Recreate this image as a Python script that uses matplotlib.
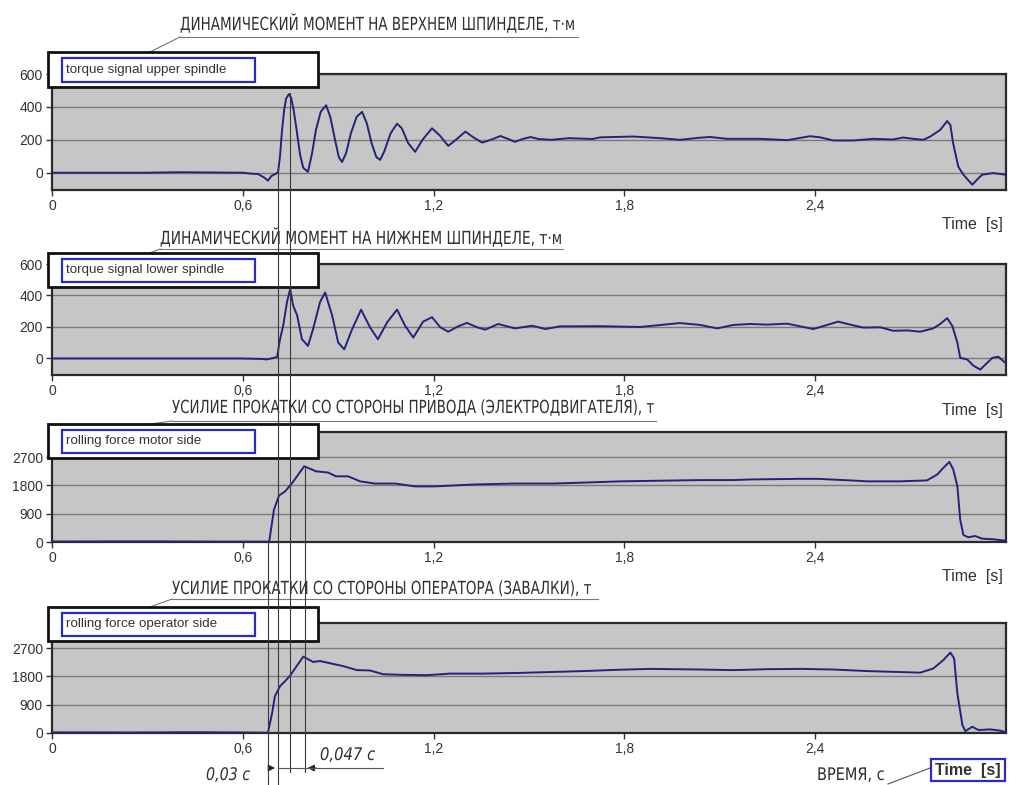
import matplotlib
matplotlib.use("Agg")
import matplotlib.pyplot as plt
import matplotlib.transforms as mtransforms
from matplotlib.patches import Rectangle
from matplotlib.lines import Line2D
from matplotlib.text import Text
from matplotlib.patheffects import AbstractPathEffect

# ---- measured signals -------------------------------------------------------
t_upper = [0.0, 0.30, 0.40, 0.60, 0.623, 0.648, 0.668, 0.679, 0.690, 0.705, 0.711, 0.717, 0.723,
           0.730, 0.736, 0.745, 0.752, 0.760, 0.770, 0.780, 0.790, 0.805, 0.818, 0.830, 0.845,
           0.862, 0.875, 0.890, 0.902, 0.912, 0.925, 0.940, 0.958, 0.975, 0.990, 1.005, 1.020,
           1.032, 1.045, 1.065, 1.085, 1.100, 1.120, 1.142, 1.165, 1.195, 1.220, 1.246, 1.270,
           1.300, 1.325, 1.353, 1.380, 1.410, 1.435, 1.456, 1.480, 1.505, 1.530, 1.570, 1.626,
           1.700, 1.724, 1.828, 1.913, 1.975, 2.038, 2.070, 2.123, 2.227, 2.312, 2.384, 2.416,
           2.457, 2.520, 2.583, 2.645, 2.677, 2.708, 2.740, 2.762, 2.793, 2.815, 2.825, 2.834,
           2.850, 2.866, 2.894, 2.910, 2.925, 2.960, 2.998]
torque_upper = [0, 0, 3, 0, -5, -8, -30, -48, -20, -5, 5, 100, 250,
                380, 450, 478, 455, 380, 250, 110, 30, 5, 120, 260, 370,
                410, 340, 200, 95, 65, 120, 240, 340, 370, 300, 180, 95,
                78, 130, 240, 298, 270, 180, 127, 200, 270, 225, 163, 200,
                250, 215, 183, 200, 223, 205, 188, 205, 217, 205, 200, 210,
                205, 215, 220, 210, 200, 213, 217, 206, 206, 198, 222, 215,
                196, 196, 206, 202, 214, 206, 200, 220, 260, 314, 290, 177,
                37, -12, -73, -40, -12, -2, -12]

t_lower = [0.0, 0.591, 0.660, 0.676, 0.700, 0.708, 0.717, 0.727, 0.739, 0.749, 0.758, 0.771,
           0.786, 0.805, 0.821, 0.843, 0.859, 0.881, 0.900, 0.919, 0.944, 0.972, 1.000, 1.025,
           1.054, 1.085, 1.110, 1.136, 1.167, 1.195, 1.221, 1.246, 1.277, 1.305, 1.337, 1.362,
           1.403, 1.456, 1.510, 1.551, 1.598, 1.724, 1.850, 1.975, 2.038, 2.092, 2.142, 2.196,
           2.249, 2.312, 2.353, 2.394, 2.438, 2.472, 2.510, 2.551, 2.605, 2.645, 2.690, 2.730,
           2.771, 2.793, 2.815, 2.831, 2.847, 2.856, 2.878, 2.897, 2.919, 2.935, 2.957, 2.976,
           2.998]
torque_lower = [0, 0, -3, -6, 5, 10, 122, 208, 359, 440, 338, 273,
                122, 80, 187, 359, 419, 273, 101, 58, 187, 310, 198, 122,
                230, 310, 209, 133, 234, 262, 198, 170, 204, 226, 198, 183,
                219, 191, 208, 187, 204, 205, 200, 225, 213, 191, 213, 219,
                215, 221, 204, 187, 213, 234, 215, 196, 198, 176, 178, 170,
                191, 219, 256, 208, 101, 4, -6, -45, -71, -39, 4, 11,
                -28]

t_motor = [0.0, 0.30, 0.50, 0.683, 0.698, 0.714, 0.733, 0.757, 0.793, 0.830, 0.868, 0.893,
           0.931, 0.969, 1.016, 1.079, 1.142, 1.205, 1.327, 1.453, 1.576, 1.702, 1.787, 2.038,
           2.142, 2.196, 2.353, 2.406, 2.510, 2.564, 2.667, 2.752, 2.784, 2.803, 2.822, 2.834,
           2.847, 2.856, 2.866, 2.881, 2.903, 2.925, 2.960, 2.998]
force_motor = [15, 20, 12, 10, 1030, 1480, 1610, 1900, 2410, 2250, 2210, 2090,
               2090, 1930, 1860, 1860, 1770, 1770, 1830, 1860, 1860, 1900, 1930, 1970,
               1970, 1990, 2010, 2010, 1960, 1930, 1930, 1960, 2150, 2360, 2550, 2310,
               1780, 710, 225, 150, 190, 107, 86, 43]

t_operator = [0.0, 0.25, 0.45, 0.679, 0.692, 0.701, 0.717, 0.733, 0.749, 0.771, 0.790, 0.805,
              0.821, 0.843, 0.874, 0.915, 0.959, 1.000, 1.041, 1.104, 1.180, 1.252, 1.356,
              1.463, 1.567, 1.670, 1.777, 1.881, 2.038, 2.142, 2.249, 2.353, 2.457, 2.564,
              2.667, 2.730, 2.771, 2.803, 2.825, 2.837, 2.847, 2.863, 2.872, 2.894, 2.913,
              2.951, 2.982, 2.998]
force_operator = [20, 15, 25, 10, 630, 1170, 1490, 1650, 1830, 2150, 2430, 2350,
                  2260, 2290, 2220, 2130, 2000, 1990, 1870, 1850, 1840, 1890, 1890,
                  1910, 1940, 1970, 2010, 2040, 2020, 2000, 2030, 2040, 2020, 1970,
                  1940, 1920, 2050, 2320, 2560, 2370, 1260, 250, 60, 200, 95,
                  115, 75, 30]

x_ticks = [0, 0.6, 1.2, 1.8, 2.4]
x_tick_labels = ["0", "0,6", "1,2", "1,8", "2,4"]
torque_ticks = [0, 200, 400, 600]
force_ticks = [0, 900, 1800, 2700]

titles = ["ДИНАМИЧЕСКИЙ МОМЕНТ НА ВЕРХНЕМ ШПИНДЕЛЕ, т·м",
          "ДИНАМИЧЕСКИЙ МОМЕНТ НА НИЖНЕМ ШПИНДЕЛЕ, т·м",
          "УСИЛИЕ ПРОКАТКИ СО СТОРОНЫ ПРИВОДА (ЭЛЕКТРОДВИГАТЕЛЯ), т",
          "УСИЛИЕ ПРОКАТКИ СО СТОРОНЫ ОПЕРАТОРА (ЗАВАЛКИ), т"]
signal_names = ["torque signal upper spindle", "torque signal lower spindle",
                "rolling force motor side", "rolling force operator side"]

# marker lines (s) and the two time intervals between them
t_start = 0.68
t_contact = t_start + 0.03
t_peak = 0.748
t_force_peak = t_peak + 0.047

# ---- layout helpers (pixel coordinates of a 1011x785 canvas) ----------------
W, H = 1011, 785


def fx(x):
    return x / W


def fy(y):
    return 1 - y / H


class Squeeze(AbstractPathEffect):
    """Narrow the glyphs horizontally around a fixed x (drawing-font look)."""

    def __init__(self, sx, x0):
        super().__init__()
        self.sx = sx
        self.x0 = x0

    def draw_path(self, renderer, gc, tpath, affine, rgbFace=None):
        squeeze = mtransforms.Affine2D().translate(-self.x0, 0).scale(self.sx, 1).translate(self.x0, 0)
        renderer.draw_path(gc, tpath, affine + squeeze, rgbFace)


class NarrowText(Text):
    """Left-aligned text drawn narrowed to a given pixel span."""

    def __init__(self, x0, x1, *args, **kwargs):
        super().__init__(*args, **kwargs)
        self.span = (x0, x1)
        self.sx = 1.0

    def fit(self, renderer):
        width = super().get_window_extent(renderer).width
        self.sx = (self.span[1] - self.span[0]) / width
        self.set_path_effects([Squeeze(self.sx, self.span[0])])

    def get_window_extent(self, renderer=None, dpi=None):
        bb = super().get_window_extent(renderer, dpi)
        return mtransforms.Bbox([[bb.x0, bb.y0], [bb.x0 + bb.width * self.sx, bb.y1]])


LINE = "#23237a"
GRAY = "#c6c6c6"
DARK = "#333333"
ARIAL = ["Liberation Sans", "DejaVu Sans"]

fig = plt.figure(figsize=(W / 100, H / 100), dpi=100)

# top, bottom of each plot area in pixels
boxes = [(74, 190), (264, 375), (432, 542), (623, 733)]
series = [(t_upper, torque_upper, torque_ticks, (-105, 600)),
          (t_lower, torque_lower, torque_ticks, (-105, 600)),
          (t_motor, force_motor, force_ticks, (0, 3500)),
          (t_operator, force_operator, force_ticks, (0, 3500))]

axes = []
for (top, bottom), (t, v, yt, ylim) in zip(boxes, series):
    ax = fig.add_axes([fx(52), fy(bottom), fx(1006) - fx(52), (bottom - top) / H])
    ax.set_facecolor(GRAY)
    ax.plot(t, v, color=LINE, lw=1.4, zorder=3)
    ax.set_xlim(0, 3.0)
    ax.set_ylim(*ylim)
    ax.set_yticks(yt)
    ax.set_yticklabels([str(y) for y in yt], fontsize=10, color=DARK, family=ARIAL)
    ax.set_xticks(x_ticks)
    ax.set_xticklabels(x_tick_labels, fontsize=10, color=DARK, family=ARIAL)
    ax.grid(axis="y", color="#7a7a7a", lw=1.0)
    ax.set_axisbelow(True)
    ax.tick_params(direction="out", length=4, width=1, color=DARK, pad=2.5)
    for side in ["top", "right", "left", "bottom"]:
        ax.spines[side].set_color("#2a2a2a")
        ax.spines[side].set_linewidth(1.6)
    axes.append(ax)

# "Time [s]" under the first three plots
for y in [225, 410, 576]:
    fig.text(fx(1003), fy(y), "Time  [s]", ha="right", va="center",
             fontsize=11.5, color=DARK, family=ARIAL)

narrow = []


def draft_text(s, x0, x1, baseline, size, italic=False):
    txt = NarrowText(x0, x1, fx(x0), fy(baseline), s, ha="left", va="baseline",
                     fontsize=size, color="#303030", family="DejaVu Sans",
                     style="italic" if italic else "normal", transform=fig.transFigure)
    fig.add_artist(txt)
    narrow.append(txt)


# framed "Time [s]" with its Russian caption on the last plot
fig.text(fx(968), fy(770), "Time  [s]", ha="center", va="center", fontsize=11.5,
         color=DARK, family=ARIAL, fontweight="bold",
         bbox=dict(boxstyle="square,pad=0.25", fc="white", ec="#2a2ac8", lw=1.6))
draft_text("ВРЕМЯ, с", 817, 885, 780, 12.5)
fig.add_artist(Line2D([fx(888), fx(930)], [fy(784), fy(768)], color="#555555", lw=0.8))

# signal name boxes with the titles and their leader lines
legend_boxes = [(52, 87), (253, 287), (424, 458), (607, 641)]
# (baseline, underline y, text left, text right, underline right)
title_rows = [(30, 37, 180, 573, 578), (244, 249, 160, 560, 563),
              (413, 421, 172, 652, 656), (594, 599, 172, 590, 598)]
for (btop, bbot), name, title, (ty, uy, tx0, tx1, ux1) in zip(legend_boxes, signal_names,
                                                             titles, title_rows):
    fig.add_artist(Rectangle((fx(48), fy(bbot)), fx(318) - fx(48), (bbot - btop) / H,
                             transform=fig.transFigure, fc="white", ec="#111111", lw=2.0, zorder=5))
    fig.add_artist(Rectangle((fx(62), fy(bbot - 5)), fx(255) - fx(62), (bbot - btop - 11) / H,
                             transform=fig.transFigure, fc="white", ec="#2a2ac8", lw=1.6, zorder=6))
    fig.text(fx(66), fy((btop + bbot) / 2), name, ha="left", va="center", fontsize=9.6,
             color=DARK, family=ARIAL, zorder=7)
    draft_text(title, tx0, tx1, ty, 13)
    fig.add_artist(Line2D([fx(tx0), fx(ux1)], [fy(uy), fy(uy)], color="#777777", lw=0.8))
    fig.add_artist(Line2D([fx(tx0), fx(150)], [fy(uy), fy(btop)], color="#777777", lw=0.8))

# vertical marker lines running through all plots
trans = mtransforms.blended_transform_factory(axes[0].transData, fig.transFigure)
markers = [(t_start, 542, 785), (t_contact, 168, 785), (t_peak, 93, 772), (t_force_peak, 468, 772)]
for t, y0, y1 in markers:
    fig.add_artist(Line2D([t, t], [fy(y0), fy(y1)], transform=trans, color="#3a3a3a",
                          lw=0.8, zorder=8))

# interval dimensions
dim_end = (383 - 52) / 317.9
fig.add_artist(Line2D([t_contact, dim_end], [fy(768), fy(768)], transform=trans,
                      color="#555555", lw=0.8, zorder=8))
axes[3].annotate("", xy=(t_contact, fy(768)), xytext=(t_contact - 0.03, fy(768)),
                 xycoords=trans, textcoords=trans,
                 arrowprops=dict(arrowstyle="-|>", color="#222222", lw=0.8, mutation_scale=10))
axes[3].annotate("", xy=(t_force_peak, fy(768)), xytext=(t_force_peak + 0.045, fy(768)),
                 xycoords=trans, textcoords=trans,
                 arrowprops=dict(arrowstyle="-|>", color="#222222", lw=0.8, mutation_scale=10))
draft_text("0,03 с", 206, 250, 780, 12.5, italic=True)
draft_text("0,047 с", 320, 375, 760, 12.5, italic=True)

# narrow each caption to its span
fig.canvas.draw()
renderer = fig.canvas.get_renderer()
for txt in narrow:
    txt.fit(renderer)

fig.savefig("out.png", dpi=100)
